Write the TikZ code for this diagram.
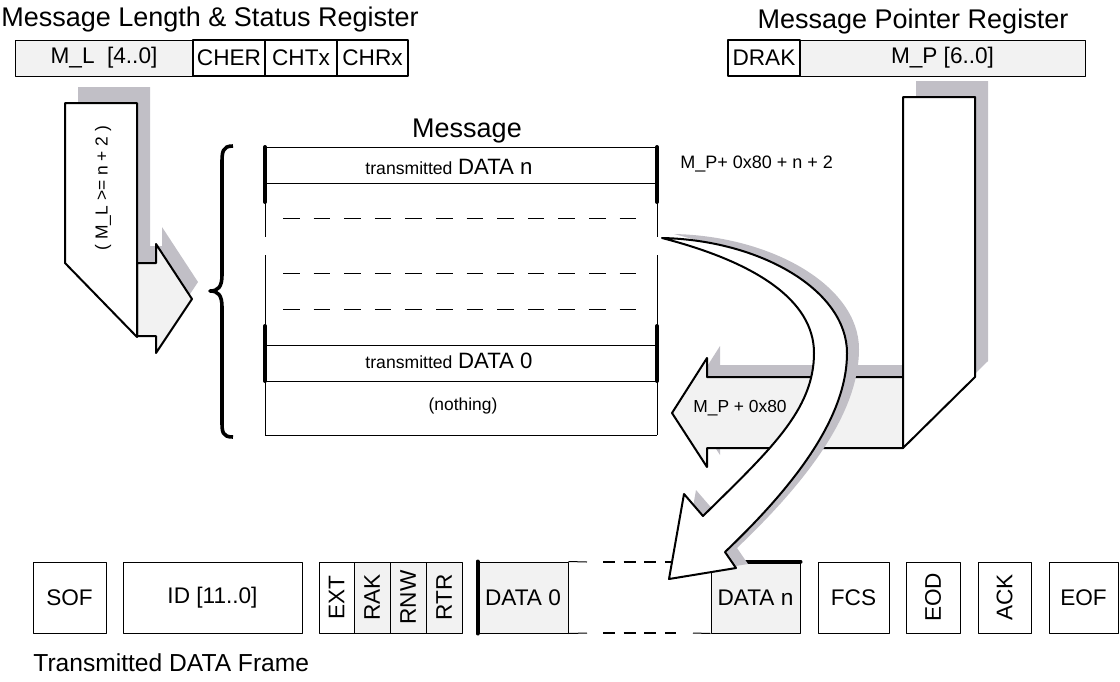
\documentclass[tikz,border=0pt]{standalone}
\usepackage{fontspec}
\setmainfont{Liberation Sans}
\definecolor{fillgray}{RGB}{242,242,242}
\definecolor{shadegray}{RGB}{193,191,198}
\newcommand{\setfs}[1]{\fontsize{#1}{#1}\selectfont}

\begin{document}
\begin{tikzpicture}[x=0.5pt, y=-0.5pt, line join=round,
   every node/.style={inner sep=0pt},
   reg/.style={draw, line width=0.5pt, minimum height=18pt, font=\setfs{11.3}},
   regb/.style={reg, line width=1pt},
   fld/.style={draw, line width=0.5pt, minimum height=35.5pt, font=\setfs{11.3}},
   vfld/.style={draw, line width=0.5pt, rotate=90, minimum width=35.5pt, font=\setfs{11.3}},
   shade/.style={fill=shadegray, draw=none},
   blk/.style={draw=black, line width=1pt},
   thinln/.style={line width=0.5pt},
   thickln/.style={line width=2pt, line cap=round},
   msgdash/.style={line width=0.5pt, dash pattern=on 8.3pt off 7pt},
   gapdash/.style={line width=1pt, dash pattern=on 6pt off 4.3pt}]
   \useasboundingbox (0,0) rectangle (1120,681);

   \begin{scope}[every node/.style={font=\setfs{13.5}, anchor=base}]
    \node (lentitle) at (210,26) {Message Length \& Status Register};
    \node (ptrtitle) at (913,28) {Message Pointer Register};
    \node (msgtitle) at (467,137) {Message};
   \end{scope}

   \node[reg, minimum width=89pt, fill=fillgray] (mlen) at (104,58) {M\_L\ \ [4..0]};
   \node[regb, minimum width=36pt] (cher) at (229,58) {CHER};
   \node[regb, minimum width=36pt] (chtx) at (301,58) {CHTx};
   \node[regb, minimum width=35.5pt] (chrx) at (372.5,58) {CHRx};
   \node[regb, minimum width=36pt] (drak) at (764,58) {DRAK};
   \node[reg, minimum width=142.5pt, fill=fillgray] (mptr) at (942.5,58) {M\_P [6..0]};

   \node[fld, minimum width=36.5pt] (sof) at (69.5,597.5) {SOF};
   \node[fld, minimum width=89.5pt] (ident) at (212.5,597.5) {ID [11..0]};
   \node[vfld, minimum height=17.5pt] (ext) at (336.5,597.5) {EXT};
   \node[vfld, minimum height=18pt, fill=fillgray] (rak) at (372,597.5) {RAK};
   \node[vfld, minimum height=18pt, fill=fillgray] (rnw) at (408,597.5) {RNW};
   \node[vfld, minimum height=18pt, fill=fillgray] (rtr) at (444,597.5) {RTR};
   \node[fld, minimum width=45pt, fill=fillgray] (dat0) at (523,597.5) {DATA 0};
   \node[fld, minimum width=44.5pt, fill=fillgray] (datn) at (755.5,597.5) {DATA n};
   \node[fld, minimum width=35.5pt] (fcs) at (853.5,597.5) {FCS};
   \node[vfld, minimum height=27pt] (eod) at (933,597.5) {EOD};
   \node[vfld, minimum height=26.5pt] (ack) at (1004.5,597.5) {ACK};
   \node[fld, minimum width=34.5pt] (eof) at (1083.5,597.5) {EOF};
   \node[font=\setfs{12.3}, anchor=base west] (frametitle) at (33,671) {Transmitted DATA Frame};

   \draw[thinln] (dat0.north east) -- (587,562) (dat0.south east) -- (587,633);
   \draw[gapdash] (603,562) -- (676,562) (603,633) -- (676,633);
   \draw[thinln] (693,562) -- (datn.north west) (693,633) -- (datn.south west);
   \draw[thickln] (dat0.north west) -- (dat0.south west);
   \draw[thickln] (datn.north west) -- (datn.north east);

   \foreach \y in {147,183,345,381,435}
    \draw[thinln] (265,\y) -- (657,\y);
   \foreach \x in {265,657} {
    \draw[thinln] (\x,147) -- (\x,237) (\x,255) -- (\x,435);
    \draw[thickln] (\x,147) -- (\x,202) (\x,326) -- (\x,381);
   }
   \foreach \y in {218,273,309}
    \draw[msgdash] (283,\y) -- (640,\y);
   \node[anchor=base] (rown) at (449,174) {{\setfs{8.8}transmitted} {\setfs{11.1}DATA n}};
   \node[anchor=base] (row0) at (449,368) {{\setfs{8.8}transmitted} {\setfs{11.1}DATA 0}};
   \node[anchor=base, font=\setfs{8.7}] (rowe) at (463,410) {(nothing)};
   \node[anchor=base west, font=\setfs{9}] (topaddr) at (680,168) {M\_P+ 0x80 + n + 2};

   \draw[line width=1.8pt] (233,146) .. controls (222,146) and (222,152) .. (222,165) -- (222,275)
      .. controls (222,287) and (218,291) .. (210,291) .. controls (218,291) and (222,295) .. (222,307)
      -- (222,420) .. controls (222,432) and (222,437) .. (233,437);

   \fill[shade] (78,87) -- (150,87) -- (150,321) -- (78,247) -- cycle;
   \fill[shade] (143,246) -- (162,246) -- (162,227) -- (198,282) -- (162,336) -- (162,319) -- (143,319) -- cycle;
   \draw[blk, fill=fillgray] (137,263) -- (156,263) -- (156,244) -- (192,299) -- (156,353) -- (156,336) -- (137,336) -- cycle;
   \draw[blk, fill=white] (65,103) -- (137,103) -- (137,337) -- (65,263) -- cycle;
   \node[font=\setfs{8.7}, rotate=90] (mlcond) at (103,188) {( M\_L >= n + 2 )};

   \fill[shade] (916,81) -- (988,81) -- (988,361) -- (916,432) -- cycle;
   \fill[shade, shift={(13,-12)}] (903,377) -- (707,377) -- (707,358) -- (672,413) -- (707,467) -- (707,448) -- (903,448) -- cycle;
   \draw[blk, fill=fillgray] (903,377) -- (707,377) -- (707,358) -- (672,413) -- (707,467) -- (707,448) -- (903,448) -- cycle;
   \draw[blk, fill=white] (903,97) -- (975,97) -- (975,377) -- (903,448) -- cycle;
   \node[anchor=base, font=\setfs{8.7}] (lowaddr) at (740,412) {M\_P + 0x80};

   \fill[shade, shift={(12,-4)}] (662,238) .. controls (760,240) and (847,290) .. (847,353)
      .. controls (847,420) and (790,490) .. (725,552) -- (736,568) -- (669,579) -- (684,494) -- (703,516)
      .. controls (770,450) and (814,410) .. (814,353) .. controls (814,300) and (755,262) .. (662,238) -- cycle;
   \draw[blk, fill=white] (662,238) .. controls (760,240) and (847,290) .. (847,353)
      .. controls (847,420) and (790,490) .. (725,552) -- (736,568) -- (669,579) -- (684,494) -- (703,516)
      .. controls (770,450) and (814,410) .. (814,353) .. controls (814,300) and (755,262) .. (662,238) -- cycle;
\end{tikzpicture}
\end{document}
